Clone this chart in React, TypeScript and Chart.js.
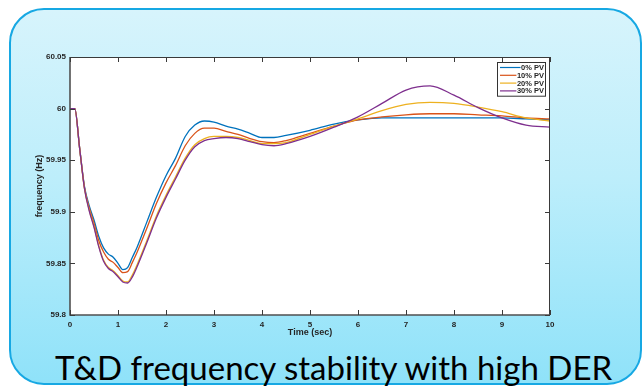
import React, { useEffect, useRef } from "react";
import { Chart, registerables } from "chart.js";

Chart.register(...registerables);

const timeSec = [
  0, 0.1, 0.2, 0.3, 0.4, 0.5, 0.6, 0.7, 0.8, 0.9, 1.0, 1.1, 1.2, 1.3, 1.4,
  1.6, 1.8, 2.0, 2.2, 2.4, 2.6, 2.8, 3.0, 3.25, 3.5, 3.75, 4.0, 4.25, 4.5,
  5.0, 5.5, 6.0, 6.5, 7.0, 7.5, 8.0, 8.5, 9.0, 9.5, 10,
];

const pv0 = [
  60.0, 60.0, 59.962, 59.925, 59.906, 59.892, 59.876, 59.865, 59.859, 59.856,
  59.85, 59.844, 59.846, 59.856, 59.866, 59.89, 59.914, 59.935, 59.952, 59.973,
  59.984, 59.988, 59.987, 59.983, 59.98, 59.976, 59.972, 59.972, 59.974,
  59.979, 59.985, 59.989, 59.991, 59.991, 59.991, 59.991, 59.991, 59.991,
  59.99, 59.989,
];

const pv10 = [
  60.0, 60.0, 59.962, 59.924, 59.904, 59.889, 59.872, 59.861, 59.854, 59.851,
  59.846, 59.841, 59.842, 59.851, 59.861, 59.884, 59.908, 59.928, 59.945,
  59.964, 59.976, 59.981, 59.981, 59.978, 59.975, 59.971, 59.968, 59.967,
  59.969, 59.976, 59.983, 59.989, 59.992, 59.994, 59.995, 59.995, 59.994,
  59.993, 59.991, 59.99,
];

const pv20 = [
  60.0, 60.0, 59.962, 59.923, 59.902, 59.886, 59.867, 59.853, 59.846, 59.843,
  59.838, 59.833, 59.832, 59.839, 59.849, 59.872, 59.896, 59.916, 59.934,
  59.952, 59.965, 59.971, 59.973, 59.973, 59.972, 59.969, 59.966, 59.966,
  59.967, 59.975, 59.983, 59.99, 59.998, 60.004, 60.006, 60.005, 60.0015,
  59.997, 59.991, 59.988,
];

const pv30 = [
  60.0, 60.0, 59.962, 59.923, 59.901, 59.885, 59.866, 59.852, 59.845, 59.842,
  59.837, 59.832, 59.831, 59.837, 59.847, 59.87, 59.894, 59.914, 59.932,
  59.95, 59.963, 59.969, 59.971, 59.972, 59.971, 59.968, 59.965, 59.964,
  59.966, 59.973, 59.982, 59.992, 60.005, 60.018, 60.022, 60.013, 60.001,
  59.991, 59.984, 59.982,
];

const seriesLabels = ["0% PV", "10% PV", "20% PV", "30% PV"];
const seriesColors = ["#0072BD", "#D95319", "#EDB120", "#7E2F8E"];

const xTickStep = 1;
const xMin = 0;
const xMax = 10;
const yTickStep = 0.05;
const yMin = 59.8;
const yMax = 60.05;

const xTitle = "Time (sec)";
const yTitle = "frequency (Hz)";
const caption = "T&D frequency stability with high DER";

const AXIS_FONT = "'Liberation Sans', Arial, Helvetica, sans-serif";

const plotBgPlugin = {
  id: "plotBg",
  beforeDraw(chart: any) {
    const { ctx, chartArea: a } = chart;
    ctx.save();
    ctx.fillStyle = "#ffffff";
    ctx.fillRect(a.left, a.top, a.right - a.left, a.bottom - a.top);
    ctx.restore();
  },
};

const framePlugin = {
  id: "frame",
  afterDatasetsDraw(chart: any) {
    const { ctx, chartArea: a, scales } = chart;
    const xs = scales.x;
    const ys = scales.y;
    const tl = 5;
    ctx.save();
    ctx.strokeStyle = "#3a3a3a";
    ctx.lineWidth = 1;
    ctx.beginPath();
    ctx.moveTo(a.left, a.top + 0.5);
    ctx.lineTo(a.right, a.top + 0.5);
    ctx.moveTo(a.right - 0.5, a.top);
    ctx.lineTo(a.right - 0.5, a.bottom);
    ctx.stroke();
    ctx.strokeStyle = "#505050";
    ctx.lineWidth = 1.6;
    ctx.beginPath();
    ctx.moveTo(a.left, a.top);
    ctx.lineTo(a.left, a.bottom);
    ctx.lineTo(a.right, a.bottom);
    ctx.stroke();
    ctx.strokeStyle = "#3a3a3a";
    ctx.lineWidth = 1;
    ctx.beginPath();
    xs.ticks.forEach((t: any) => {
      const px = Math.round(xs.getPixelForValue(t.value)) + 0.5;
      ctx.moveTo(px, a.bottom);
      ctx.lineTo(px, a.bottom - tl);
      ctx.moveTo(px, a.top);
      ctx.lineTo(px, a.top + tl);
    });
    ys.ticks.forEach((t: any) => {
      const py = Math.round(ys.getPixelForValue(t.value)) + 0.5;
      ctx.moveTo(a.left, py);
      ctx.lineTo(a.left + tl, py);
      ctx.moveTo(a.right, py);
      ctx.lineTo(a.right - tl, py);
    });
    ctx.stroke();
    ctx.restore();
  },
};

const legendPlugin = {
  id: "boxLegend",
  afterDraw(chart: any) {
    const { ctx, chartArea: a } = chart;
    const ds = chart.data.datasets;
    const w = 48;
    const rowH = 7.8;
    const h = ds.length * rowH + 2.5;
    const right = a.right - 4.5;
    const left = right - w;
    const top = a.top + 5.5;
    ctx.save();
    ctx.fillStyle = "#ffffff";
    ctx.fillRect(left, top, w, h);
    ctx.strokeStyle = "#333333";
    ctx.lineWidth = 1;
    ctx.strokeRect(left, top, w, h);
    ctx.font = `bold 7.5px ${AXIS_FONT}`;
    ctx.textAlign = "right";
    ctx.textBaseline = "middle";
    ds.forEach((d: any, i: number) => {
      const cy = top + 5 + i * rowH;
      const tw = ctx.measureText(d.label).width;
      const tx = right - 1.5;
      ctx.strokeStyle = d.borderColor;
      ctx.lineWidth = 1.2;
      ctx.beginPath();
      ctx.moveTo(left + 2.5, cy);
      ctx.lineTo(tx - tw - 0.5, cy);
      ctx.stroke();
      ctx.fillStyle = "#262626";
      ctx.fillText(d.label, tx, cy + 0.5);
    });
    ctx.restore();
  },
};

export default function App() {
  const ref = useRef<HTMLCanvasElement>(null);

  useEffect(() => {
    if (!ref.current) return;
    const seriesValues = [pv0, pv10, pv20, pv30];
    const chart = new Chart(ref.current, {
      type: "line",
      data: {
        datasets: seriesValues.map((vals, i) => ({
          label: seriesLabels[i],
          data: timeSec.map((t, j) => ({ x: t, y: vals[j] })),
          borderColor: seriesColors[i],
          backgroundColor: seriesColors[i],
          borderWidth: 1.3,
          pointRadius: 0,
          cubicInterpolationMode: "monotone" as const,
          fill: false,
          order: seriesValues.length - i,
        })),
      },
      options: {
        animation: false,
        responsive: false,
        layout: { padding: { left: 0, top: 57, right: 93, bottom: 49 } },
        plugins: {
          legend: { display: false },
          tooltip: { enabled: false },
        },
        scales: {
          x: {
            type: "linear",
            min: xMin,
            max: xMax,
            afterFit: (s: any) => {
              s.height = 25;
            },
            grid: { display: false, drawTicks: false },
            border: { display: false },
            ticks: {
              stepSize: xTickStep,
              padding: 5,
              color: "#262626",
              maxRotation: 0,
              font: { family: AXIS_FONT, size: 8, weight: "bold" },
            },
            title: {
              display: true,
              text: xTitle,
              color: "#262626",
              padding: { top: 0, bottom: 2.5 },
              font: { family: AXIS_FONT, size: 9, weight: "bold" },
            },
          },
          y: {
            type: "linear",
            min: yMin,
            max: yMax,
            afterFit: (s: any) => {
              s.width = 70;
            },
            grid: { display: false, drawTicks: false },
            border: { display: false },
            ticks: {
              stepSize: yTickStep,
              padding: 4,
              color: "#262626",
              font: { family: AXIS_FONT, size: 8, weight: "bold" },
              callback: (v: any) => String(Number(Number(v).toFixed(2))),
            },
            title: {
              display: true,
              text: yTitle,
              color: "#262626",
              padding: { top: 34, bottom: 0 },
              font: { family: AXIS_FONT, size: 9, weight: "bold" },
            },
          },
        },
      },
      plugins: [plotBgPlugin, framePlugin, legendPlugin],
    } as any);
    return () => chart.destroy();
  }, []);

  return (
    <div
      style={{
        position: "fixed",
        left: 0,
        top: 0,
        width: 643,
        height: 389,
        background: "#ffffff",
        overflow: "hidden",
      }}
    >
      <div
        style={{
          position: "absolute",
          left: 9,
          top: 8,
          width: 633,
          height: 377,
          boxSizing: "border-box",
          border: "2.5px solid #17a8e3",
          borderRadius: 35,
          background: "linear-gradient(180deg, #d7f4fc 0%, #bdeefb 45%, #8fe2f9 100%)",
        }}
      />
      <div
        style={{
          position: "absolute",
          left: 0,
          width: 667,
          top: 351,
          height: 33,
          lineHeight: "33px",
          fontFamily: "Lato, 'Open Sans', sans-serif",
          fontSize: 33,
          color: "#000000",
          textAlign: "center",
          whiteSpace: "nowrap",
        }}
      >
        {caption}
      </div>
      <canvas
        ref={ref}
        width={643}
        height={389}
        style={{ position: "absolute", left: 0, top: 0, width: 643, height: 389 }}
      />
    </div>
  );
}
